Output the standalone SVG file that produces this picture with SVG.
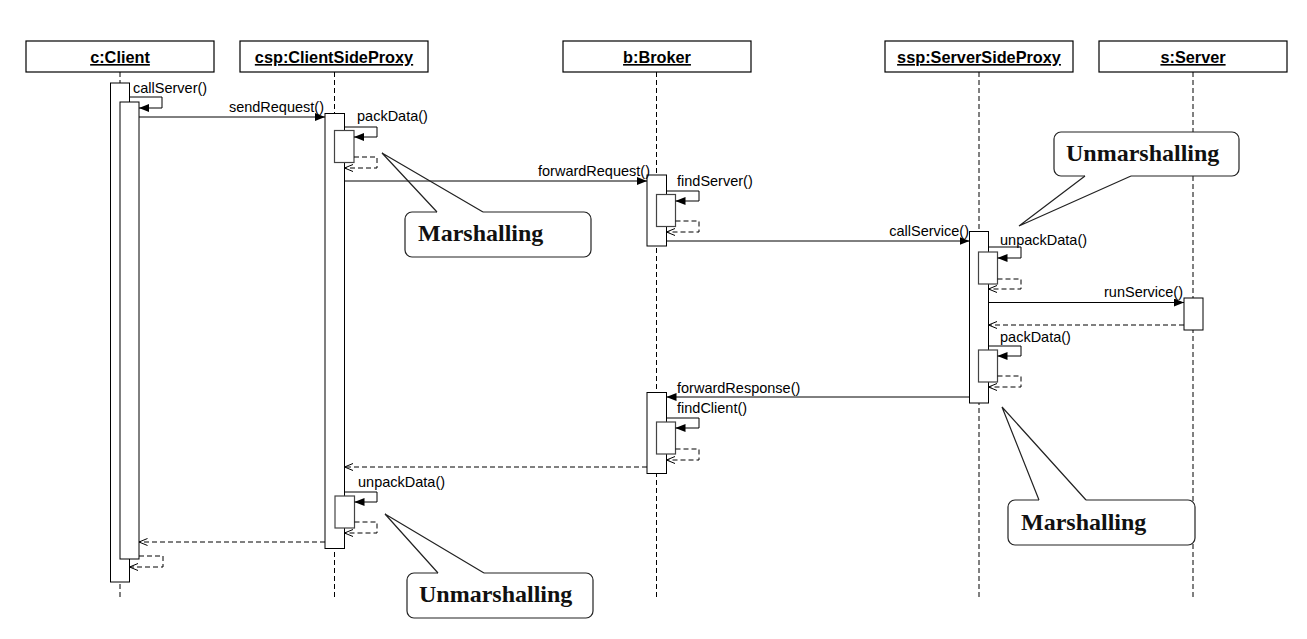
<svg xmlns="http://www.w3.org/2000/svg" width="1307" height="639" viewBox="0 0 1307 639">
<defs>
<marker id="sync" viewBox="0 0 10 8" refX="10" refY="4" markerWidth="10" markerHeight="8" markerUnits="userSpaceOnUse" orient="auto"><path d="M0,0 L10,4 L0,8 z" fill="#000"/></marker>
<marker id="ret" viewBox="0 0 10 8" refX="9.5" refY="4" markerWidth="10" markerHeight="8" markerUnits="userSpaceOnUse" orient="auto"><path d="M1,0.5 L9.5,4 L1,7.5" fill="none" stroke="#000" stroke-width="1"/></marker>
<style>
.head{fill:#fff;stroke:#000;stroke-width:1.2}
.htxt{font-family:"Liberation Sans",Arial,sans-serif;font-weight:bold;font-size:16.3px;text-anchor:middle;text-decoration:underline;fill:#000}
.life{stroke:#000;stroke-width:1;stroke-dasharray:5,3;fill:none}
.bar{fill:#fff;stroke:#000;stroke-width:1}
.ibar{fill:#fff;stroke:#444;stroke-width:1.2}
.msg{fill:none;stroke:#000;stroke-width:1;marker-end:url(#sync)}
.rtn{fill:none;stroke:#000;stroke-width:1;stroke-dasharray:5,3;marker-end:url(#ret)}
.lbl{font-family:"Liberation Sans",Arial,sans-serif;font-size:14.5px;fill:#000}
.end{text-anchor:end}
.cbox{fill:#fff;stroke:#222;stroke-width:1.2}
.cptr{fill:none;stroke:#222;stroke-width:1.2}
.ctxt{font-family:"Liberation Serif","Times New Roman",serif;font-weight:bold;font-size:24px;fill:#111}
</style>
</defs>
<rect width="1307" height="639" fill="#fff"/>

<g id="client">
<rect class="head" x="26" y="41" width="188" height="31"/>
<text class="htxt" x="120" y="63">c:Client</text>
<line class="life" x1="120" y1="72" x2="120" y2="600"/>
<rect class="bar" x="110.5" y="83" width="19" height="499"/>
<rect class="bar" x="120" y="102" width="19" height="457"/>
</g>

<g id="csp">
<rect class="head" x="240" y="41" width="188" height="31"/>
<text class="htxt" x="334" y="63">csp:ClientSideProxy</text>
<line class="life" x1="334.5" y1="72" x2="334.5" y2="600"/>
<rect class="bar" x="325" y="113.5" width="19.5" height="435"/>
<rect class="ibar" x="334.5" y="130.5" width="19.5" height="32"/>
<rect class="ibar" x="335" y="496" width="19.5" height="32"/>
</g>

<g id="broker">
<rect class="head" x="563" y="41" width="188" height="31"/>
<text class="htxt" x="657" y="63">b:Broker</text>
<line class="life" x1="656.5" y1="72" x2="656.5" y2="600"/>
<rect class="bar" x="647" y="175" width="19.5" height="71"/>
<rect class="ibar" x="656.5" y="194.5" width="19" height="32"/>
<rect class="bar" x="647" y="392.5" width="19.5" height="81"/>
<rect class="ibar" x="656.5" y="422" width="19" height="32"/>
</g>

<g id="ssp">
<rect class="head" x="885" y="41" width="188" height="31"/>
<text class="htxt" x="979" y="63">ssp:ServerSideProxy</text>
<line class="life" x1="979" y1="72" x2="979" y2="600"/>
<rect class="bar" x="969.5" y="231.5" width="19" height="171.5"/>
<rect class="ibar" x="978.5" y="252" width="19" height="32"/>
<rect class="ibar" x="978.5" y="350" width="19" height="32"/>
</g>

<g id="server">
<rect class="head" x="1099" y="41" width="188" height="31"/>
<text class="htxt" x="1193" y="63">s:Server</text>
<line class="life" x1="1193" y1="72" x2="1193" y2="600"/>
<rect class="bar" x="1184" y="298" width="19" height="32"/>
</g>

<g id="connectors">
<polyline class="msg" points="129.5,97 162,97 162,108 139,108"/>
<text class="lbl" x="133" y="93">callServer()</text>
<line class="msg" x1="139" y1="117" x2="325" y2="117"/>
<text class="lbl end" x="324" y="112">sendRequest()</text>

<polyline class="msg" points="344.5,127 377,127 377,137 354,137"/>
<text class="lbl" x="357" y="121">packData()</text>
<polyline class="rtn" points="354,157 377,157 377,168 344.5,168"/>

<line class="msg" x1="344.5" y1="181" x2="647" y2="181"/>
<text class="lbl end" x="650" y="176">forwardRequest()</text>

<polyline class="msg" points="666.5,191 699,191 699,201 675.5,201"/>
<text class="lbl" x="677" y="186">findServer()</text>
<polyline class="rtn" points="675.5,221 699,221 699,232 666.5,232"/>

<line class="msg" x1="666.5" y1="241" x2="969.5" y2="241"/>
<text class="lbl end" x="969" y="236">callService()</text>

<polyline class="msg" points="988.5,247 1021,247 1021,258 997.5,258"/>
<text class="lbl" x="1000" y="245">unpackData()</text>
<polyline class="rtn" points="997.5,279 1021,279 1021,289 988.5,289"/>

<line class="msg" x1="988.5" y1="302.5" x2="1184" y2="302.5"/>
<text class="lbl end" x="1183" y="297">runService()</text>
<line class="rtn" x1="1184" y1="325" x2="988.5" y2="325"/>

<polyline class="msg" points="988.5,346 1021,346 1021,356 997.5,356"/>
<text class="lbl" x="1000" y="342">packData()</text>
<polyline class="rtn" points="997.5,376 1021,376 1021,387 988.5,387"/>

<line class="msg" x1="969.5" y1="397" x2="666.5" y2="397"/>
<text class="lbl" x="677" y="393">forwardResponse()</text>

<polyline class="msg" points="666.5,418 699,418 699,428 675.5,428"/>
<text class="lbl" x="677" y="413">findClient()</text>
<polyline class="rtn" points="675.5,449 699,449 699,460 666.5,460"/>

<line class="rtn" x1="647" y1="467" x2="344.5" y2="467"/>

<polyline class="msg" points="344.5,492 377,492 377,502 354.5,502"/>
<text class="lbl" x="358" y="487">unpackData()</text>
<polyline class="rtn" points="354.5,522 377,522 377,533 344.5,533"/>

<line class="rtn" x1="325" y1="542" x2="139" y2="542"/>
<polyline class="rtn" points="139,556 163,556 163,567 129.5,567"/>
</g>

<g id="note-marshalling-1">
<path class="cbox" d="M483,212 H584 A7,7 0 0 1 591,219 V250 A7,7 0 0 1 584,257 H412 A7,7 0 0 1 405,250 V219 A7,7 0 0 1 412,212 H437"/>
<path class="cptr" d="M437,212 L382,153 L483,212"/>
<text class="ctxt" x="418" y="241">Marshalling</text>
</g>

<g id="note-unmarshalling-1">
<path class="cbox" d="M1085,176 H1061 A7,7 0 0 1 1054,169 V139 A7,7 0 0 1 1061,132 H1232 A7,7 0 0 1 1239,139 V169 A7,7 0 0 1 1232,176 H1131"/>
<path class="cptr" d="M1085,176 L1019,226 L1131,176"/>
<text class="ctxt" x="1066" y="161">Unmarshalling</text>
</g>

<g id="note-marshalling-2">
<path class="cbox" d="M1086,500 H1188 A7,7 0 0 1 1195,507 V538 A7,7 0 0 1 1188,545 H1015 A7,7 0 0 1 1008,538 V507 A7,7 0 0 1 1015,500 H1039"/>
<path class="cptr" d="M1039,500 L1002,407 L1086,500"/>
<text class="ctxt" x="1021" y="530">Marshalling</text>
</g>

<g id="note-unmarshalling-2">
<path class="cbox" d="M484,573 H586 A7,7 0 0 1 593,580 V611 A7,7 0 0 1 586,618 H414 A7,7 0 0 1 407,611 V580 A7,7 0 0 1 414,573 H438"/>
<path class="cptr" d="M438,573 L385,514 L484,573"/>
<text class="ctxt" x="419" y="602">Unmarshalling</text>
</g>
</svg>
